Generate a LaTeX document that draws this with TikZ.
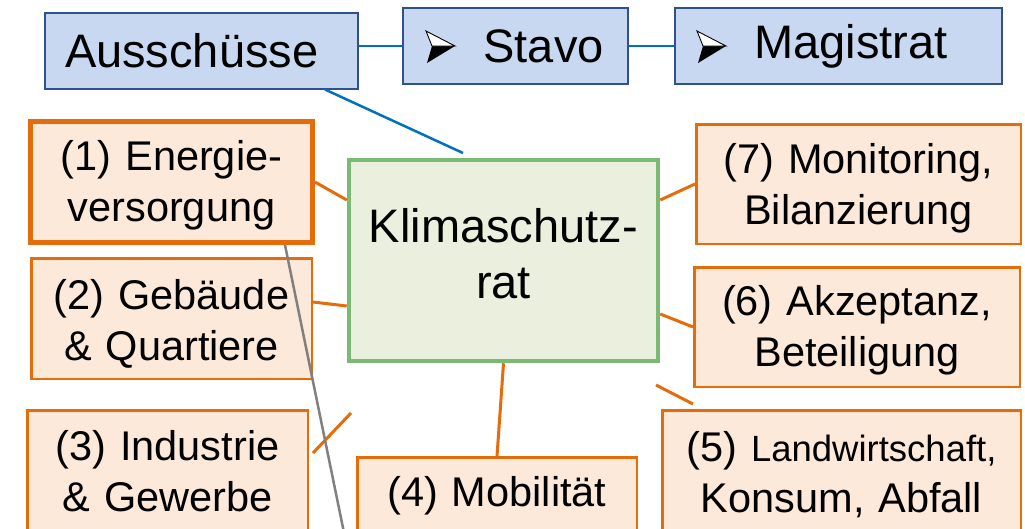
\documentclass[tikz,border=0pt]{standalone}
\usepackage{fontspec}
\setmainfont{Liberation Sans}
\usetikzlibrary{calc}

\definecolor{bluefill}{RGB}{199,216,240}
\definecolor{blueline}{RGB}{47,82,143}
\definecolor{bluelink}{RGB}{0,112,192}
\definecolor{greenfill}{RGB}{235,240,222}
\definecolor{greenline}{RGB}{122,186,114}
\definecolor{orangefill}{RGB}{253,233,217}
\definecolor{orangeline}{RGB}{228,108,10}
\definecolor{grayline}{RGB}{128,128,128}

\begin{document}
\begin{tikzpicture}[x=1pt,y=-1pt,
  panel/.style={draw=blueline, fill=bluefill, line width=2pt, minimum height=76pt,
    inner sep=0pt, align=left, font=\fontsize{47}{56}\selectfont},
  hub/.style={draw=greenline, fill=greenfill, line width=4.5pt, inner sep=0pt,
    align=center, font=\fontsize{47}{56}\selectfont},
  topic/.style={draw=orangeline, fill=orangefill, line width=2.5pt, inner sep=0pt,
    align=center, font=\fontsize{41.5}{51}\selectfont, text height=32pt},
  bluelinkstyle/.style={draw=bluelink, line width=2.5pt},
  orangelink/.style={draw=orangeline, line width=3pt},
  graylink/.style={draw=grayline, line width=2.5pt},
  % three-dimensional arrowhead used as list bullet
  bullethead/.pic={
    \fill[black] (6,0) -- (29,0) -- (1,17) -- cycle;
    \filldraw[fill=white, draw=black, line width=0.9pt, line join=miter]
      (0,-15) -- (29,0) -- (6,0) -- cycle;
  }
]
\useasboundingbox (0,0) rectangle (1025,528);
\clip (0,0) rectangle (1025,528);

% committees
\node[panel, minimum width=313pt, text width=273pt, inner xsep=20pt] (aus)
  at (201.5,50.5) {Ausschüsse};
\node[panel, minimum width=225pt, text width=177pt, inner xsep=24pt]
  (stavo) at (515.5,46) {\hspace*{56.5pt}Stavo};
\node[panel, minimum width=327pt, text width=281pt, inner xsep=23pt]
  (magi) at (838.5,46) {\hspace*{56.5pt}Magistrat};
\pic at ([xshift=24pt]stavo.west) {bullethead};
\pic at ([xshift=23pt]magi.west) {bullethead};

% central council
\node[hub, minimum width=309pt, minimum height=201pt, text width=309pt,
  text height=36pt, text depth=73pt] (kr) at (503.5,260.5) {Klimaschutz-\\rat};

% topic groups
\node[topic, line width=5pt, minimum width=282pt, minimum height=121pt,
  text width=282pt, text depth=56pt] (t1)
  at (171.5,182) {(1) Energie-\\versorgung};
\node[topic, minimum width=280.5pt, minimum height=120.5pt,
  text width=280.5pt, text depth=51pt] (t2)
  at (171.5,318.5) {(2) Gebäude\\\& Quartiere};
\node[topic, anchor=north, minimum width=280.5pt, text width=280.5pt, inner ysep=18pt,
  text depth=70pt] (t3) at (167.5,409.25) {(3) Industrie\\\& Gewerbe};
\node[topic, anchor=north, minimum width=279.5pt, text width=279.5pt, inner ysep=17pt,
  text depth=25pt] (t4) at (497,456.25) {(4) Mobilität};
\node[topic, anchor=north, minimum width=358.5pt, text width=358.5pt, inner ysep=19pt,
  text depth=70pt] (t5) at (841.5,409.25)
  {(5) {\fontsize{36.5}{36.5}\selectfont Landwirtschaft,}\\Konsum, Abfall};
\node[topic, minimum width=325.5pt, minimum height=119.5pt,
  text width=325.5pt, text depth=56pt] (t6)
  at (857,327) {(6) Akzeptanz,\\Beteiligung};
\node[topic, minimum width=324.5pt, minimum height=119.5pt,
  text width=324.5pt, text depth=54pt] (t7)
  at (858.5,184) {(7) Monitoring,\\Bilanzierung};

% free ends of the loose strokes
\coordinate (blueend) at (463,153);
\coordinate (grayend) at (345.5,540);
\coordinate (i3a) at (313,453);
\coordinate (i3b) at (351,413);
\coordinate (i5a) at (656,385);
\coordinate (i5b) at (693,404);

% blue links
\draw[bluelinkstyle] (aus.east |- stavo.west) -- (stavo.west);
\draw[bluelinkstyle] (stavo.east) -- (magi.west);
\draw[bluelinkstyle] ([xshift=123.5pt]aus.south) -- (blueend);

% orange links to the council
\draw[orangelink] (t1.east) -- ([yshift=60.5pt]kr.west);
\draw[orangelink] ([yshift=16.5pt]t2.east) -- ([yshift=-45.5pt]kr.west);
\draw[orangelink] (i3a) -- (i3b);
\draw[orangelink] (kr.south) -- (t4.north);
\draw[orangelink] (i5a) -- (i5b);
\draw[orangelink] ([yshift=-53.5pt]kr.east) -- (t6.west);
\draw[orangelink] ([yshift=60.5pt]kr.east) -- (t7.west);

% grey stroke
\draw[graylink] ([xshift=113.5pt]t1.south) -- (grayend);
\end{tikzpicture}
\end{document}
